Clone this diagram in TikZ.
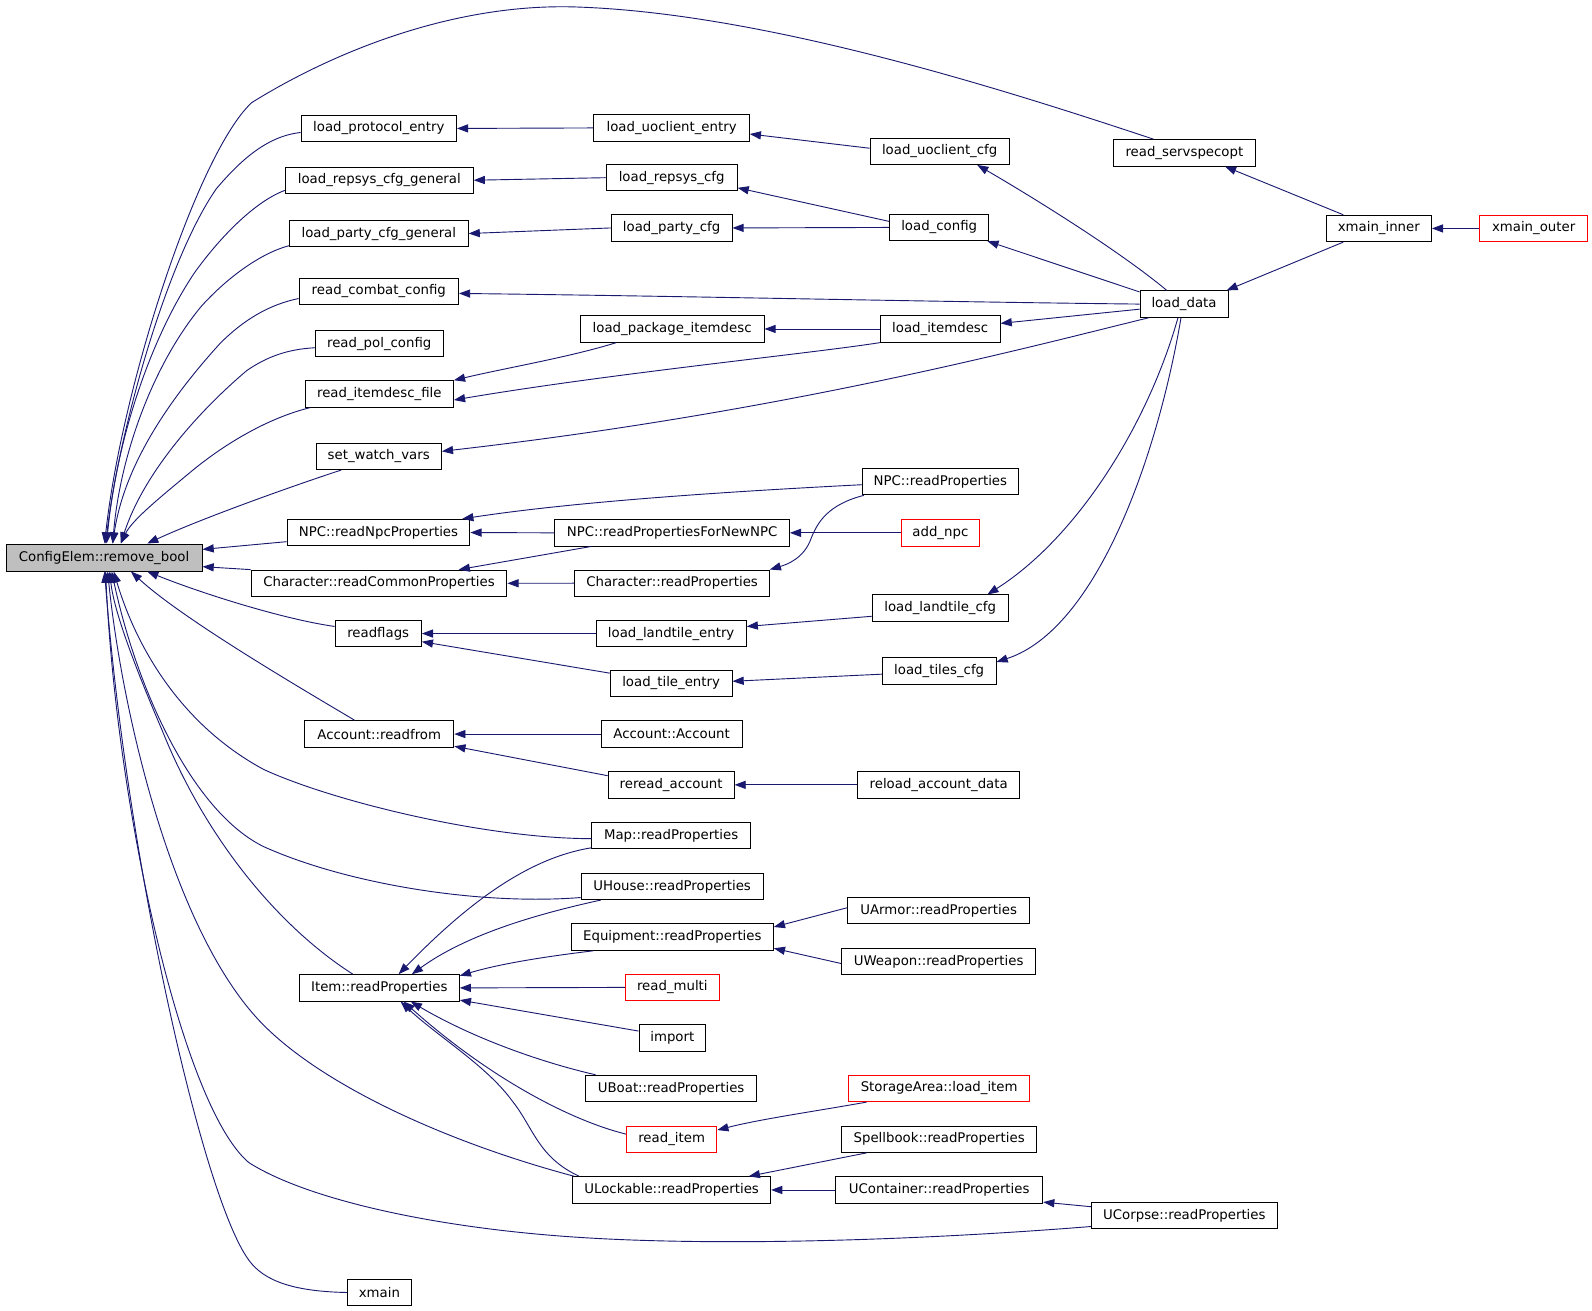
\documentclass[tikz,border=0pt]{standalone}
\usepackage{fontspec}
\setmainfont{DejaVu Sans}
\usetikzlibrary{arrows.meta}
\definecolor{navy}{HTML}{191970}
\definecolor{boxgray}{HTML}{BFBFBF}
\tikzset{
  fn/.style={draw=black, line width=0.95pt, minimum height=26pt, inner sep=0pt, font=\fontsize{13.1}{15}\selectfont, text=black},
  redfn/.style={fn, draw=red},
  edge/.style={draw=navy, line width=0.9pt, -{Triangle[length=11pt,width=8pt]}}
}
\begin{document}
\begin{tikzpicture}[x=1pt,y=-1pt]
\useasboundingbox[fill=white] (0,0) rectangle (1568,1291);
% root
\node[fn, fill=boxgray, minimum width=193pt, minimum height=26.6pt] (ce) at (102.5,549.1) {ConfigElem::remove\_bool};
% left column
\node[fn, minimum width=153pt] (lpe) at (373.1,126.5) {load\_protocol\_entry};
\node[fn, minimum width=185pt] (lrg) at (373.6,177.5) {load\_repsys\_cfg\_general};
\node[fn, minimum width=176pt] (lpg) at (373.1,230) {load\_party\_cfg\_general};
\node[fn, minimum width=157pt] (rcc) at (373.1,287) {read\_combat\_config};
\node[fn, minimum width=126pt] (rpc) at (373.5,338.5) {read\_pol\_config};
\node[fn, minimum width=146pt] (rif) at (373.6,388) {read\_itemdesc\_file};
\node[fn, minimum width=123.5pt] (swv) at (373,449.5) {set\_watch\_vars};
\node[fn, minimum width=180pt] (nnp) at (372.8,524.5) {NPC::readNpcProperties};
\node[fn, minimum width=252pt] (crc) at (373.3,574.5) {Character::readCommonProperties};
\node[fn, minimum width=85pt] (rf) at (372.5,624) {readflags};
\node[fn, minimum width=147pt] (ar) at (373.5,723) {Account::readfrom};
\node[fn, minimum width=157.6pt] (ir) at (373.6,973) {Item::readProperties};
\node[fn, minimum width=63pt] (xm) at (373.7,1273) {xmain};
% middle column
\node[fn, minimum width=153pt] (lue) at (661.5,126) {load\_uoclient\_entry};
\node[fn, minimum width=129pt] (lrc) at (661.5,175) {load\_repsys\_cfg};
\node[fn, minimum width=119pt] (lpc) at (661.5,224.5) {load\_party\_cfg};
\node[fn, minimum width=181pt] (lpi) at (662,324) {load\_package\_itemdesc};
\node[fn, minimum width=231pt] (nfn) at (662,524.8) {NPC::readPropertiesForNewNPC};
\node[fn, minimum width=191.4pt] (chp) at (662,574.4) {Character::readProperties};
\node[fn, minimum width=148pt] (lte) at (661,624) {load\_landtile\_entry};
\node[fn, minimum width=120pt] (lte2) at (661,673) {load\_tile\_entry};
\node[fn, minimum width=139pt] (aa) at (661.5,723) {Account::Account};
\node[fn, minimum width=124pt] (rra) at (661,773) {reread\_account};
\node[fn, minimum width=156pt] (mrp) at (661,823) {Map::readProperties};
\node[fn, minimum width=179.5pt] (uhr) at (662,873) {UHouse::readProperties};
\node[fn, minimum width=199pt] (eqr) at (662.2,923) {Equipment::readProperties};
\node[redfn, minimum width=92.6pt] (rm) at (662.2,972.5) {read\_multi};
\node[fn, minimum width=65.7pt] (imp) at (662.2,1022.5) {import};
\node[fn, minimum width=168pt] (ubr) at (661,1072) {UBoat::readProperties};
\node[redfn, minimum width=89pt] (ri) at (661.5,1122) {read\_item};
\node[fn, minimum width=195pt] (ulr) at (661.5,1172) {ULockable::readProperties};
% third column
\node[fn, minimum width=137pt] (luc) at (925.5,149) {load\_uoclient\_cfg};
\node[fn, minimum width=98pt] (lcf) at (925,224) {load\_config};
\node[fn, minimum width=118pt] (lid) at (926,324) {load\_itemdesc};
\node[fn, minimum width=153.7pt] (nrp) at (926.2,474.4) {NPC::readProperties};
\node[redfn, minimum width=77pt] (add) at (926.2,524.8) {add\_npc};
\node[fn, minimum width=134pt] (ltc) at (926,599) {load\_landtile\_cfg};
\node[fn, minimum width=112pt] (ltsc) at (925,661) {load\_tiles\_cfg};
\node[fn, minimum width=159pt] (rad) at (924.5,773) {reload\_account\_data};
\node[fn, minimum width=179pt] (uar) at (924.5,897) {UArmor::readProperties};
\node[fn, minimum width=191pt] (uwr) at (924.5,947) {UWeapon::readProperties};
\node[redfn, minimum width=178pt] (sal) at (925,1072) {StorageArea::load\_item};
\node[fn, minimum width=192pt] (sbr) at (925,1122) {Spellbook::readProperties};
\node[fn, minimum width=204pt] (ucr) at (925,1172) {UContainer::readProperties};
% fourth+
\node[fn, minimum width=140pt] (rso) at (1166.5,150.5) {read\_servspecopt};
\node[fn, minimum width=86.7pt] (ld) at (1166.2,299.5) {load\_data};
\node[fn, minimum width=183pt] (ucp) at (1166.5,1197) {UCorpse::readProperties};
\node[fn, minimum width=103.7pt] (xmi) at (1358,225) {xmain\_inner};
\node[redfn, minimum width=105.7pt] (xmo) at (1510.5,225) {xmain\_outer};

% edges into ConfigElem (top)
\draw[edge] ([xshift=-30.5pt]rso.north) .. controls (1000,92) and (760,14) .. (571,7) .. controls (450,2) and (330,50) .. (248,101) .. controls (195,150) and (120,380) .. ([xshift=0.5pt]ce.north);
\draw[edge] ([yshift=-4pt]lpe.west) .. controls (262,134) and (235,160) .. (213,186) .. controls (165,255) and (118,420) .. ([xshift=1.5pt]ce.north);
\draw[edge] ([yshift=-10pt]lrg.west) .. controls (252,198) and (218,232) .. (192,268) .. controls (150,330) and (115,430) .. ([xshift=2.5pt]ce.north);
\draw[edge] ([yshift=-12pt]lpg.west) .. controls (258,249) and (225,272) .. (198,302) .. controls (150,360) and (118,450) .. ([xshift=8.5pt]ce.north);
\draw[edge] ([yshift=-7pt]rcc.west) .. controls (265,300) and (240,315) .. (217,338) .. controls (165,395) and (122,460) .. ([xshift=8.5pt]ce.north);
\draw[edge] ([yshift=-4pt]rpc.west) .. controls (282,344) and (262,352) .. (243,365) .. controls (190,410) and (140,470) .. ([xshift=16.5pt]ce.north);
\draw[edge] ([xshift=5.5pt]rif.south west) .. controls (270,410) and (228,432) .. (190,463) .. controls (160,488) and (130,512) .. ([xshift=16.5pt]ce.north);
\draw[edge] ([xshift=-37pt]swv.south) .. controls (290,478) and (200,510) .. ([xshift=42.5pt]ce.north);
% right side
\draw[edge] ([yshift=-9pt]nnp.west) -- ([yshift=8pt]ce.east);
\draw[edge] (crc.north west) -- ([yshift=-9pt]ce.east);
% bottom
\draw[edge] ([yshift=7pt]rf.west) .. controls (280,610) and (200,585) .. ([xshift=42.5pt]ce.south);
\draw[edge] ([xshift=-24pt]ar.north) .. controls (300,680) and (180,610) .. ([xshift=26.5pt]ce.south);
\draw[edge] ([yshift=-3pt]mrp.west) .. controls (480,826) and (330,790) .. (260,758) .. controls (180,715) and (135,640) .. ([xshift=9.5pt]ce.south);
\draw[edge] ([yshift=-11pt]uhr.west) .. controls (470,892) and (340,870) .. (260,834) .. controls (190,800) and (135,680) .. ([xshift=7.5pt]ce.south);
\draw[edge] ([xshift=-26pt]ir.north) .. controls (270,910) and (200,820) .. (160,720) .. controls (130,650) and (112,600) .. ([xshift=5.5pt]ce.south);
\draw[edge] ([xshift=2pt]ulr.north west) .. controls (440,1125) and (320,1070) .. (260,1010) .. controls (170,920) and (120,700) .. ([xshift=3.5pt]ce.south);
\draw[edge] ([yshift=-11pt]ucp.west) .. controls (900,1222) and (700,1228) .. (560,1218) .. controls (420,1208) and (300,1180) .. (245,1145) .. controls (180,1090) and (115,800) .. ([xshift=1.5pt]ce.south);
\draw[edge] (xm.west) .. controls (290,1272) and (260,1262) .. (245,1241) .. controls (200,1180) and (125,850) .. ([xshift=0.5pt]ce.south);

% other edges
\draw[edge] (lue.west) -- (lpe.east);
\draw[edge] ([yshift=3pt]luc.west) -- ([yshift=-6pt]lue.east);
\draw[edge] (lrc.west) -- (lrg.east);
\draw[edge] ([yshift=6pt]lcf.west) -- ([yshift=-10pt]lrc.east);
\draw[edge] (lpc.west) -- (lpg.east);
\draw[edge] (lcf.west) -- (lpc.east);
\draw[edge] ([xshift=-17pt]ld.north) .. controls (1100,245) and (1010,190) .. ([xshift=37pt]luc.south);
\draw[edge] ([yshift=-1.5pt]ld.north west) -- ([xshift=-2pt]lcf.south east);
\draw[edge] (ld.west) .. controls (900,297) and (700,292) .. ([yshift=-2pt]rcc.east);
\draw[edge] ([yshift=-5pt]ld.west) -- ([yshift=5.5pt]lid.east);
\draw[edge] (lid.west) -- (lpi.east);
\draw[edge] ([xshift=-55pt]lpi.south) .. controls (560,352) and (500,362) .. (rif.north east);
\draw[edge] (lid.south west) .. controls (800,348) and (600,368) .. ([yshift=-6pt]rif.east);
\draw[edge] ([xshift=9pt]ld.south west) .. controls (1020,340) and (780,405) .. ([yshift=5pt]swv.east);
\draw[edge] ([xshift=-35pt]xmi.south) -- ([xshift=-2pt]ld.north east);
\draw[edge] ([xshift=-35pt]xmi.north) -- ([xshift=40pt]rso.south);
\draw[edge] (xmo.west) -- (xmi.east);
\draw[edge] ([yshift=-3pt]nrp.west) .. controls (700,485) and (560,495) .. ([xshift=-8pt]nnp.north east);
\draw[edge] (nfn.west) -- (nnp.east);
\draw[edge] (add.west) -- (nfn.east);
\draw[edge] ([xshift=36pt]nfn.south west) -- ([xshift=-48pt]crc.north east);
\draw[edge] (chp.west) -- (crc.east);
\draw[edge] ([xshift=2pt]nrp.south west) .. controls (815,497) and (805,515) .. (799,530) .. controls (792,550) and (775,556) .. (chp.north east);
\draw[edge] ([xshift=-6pt]ld.south) .. controls (1130,420) and (1060,530) .. ([xshift=-21pt]ltc.north east);
\draw[edge] ([xshift=-3pt]ld.south) .. controls (1140,450) and (1080,620) .. ([yshift=9pt]ltsc.east);
\draw[edge] ([yshift=-8pt]ltc.west) -- ([yshift=7pt]lte.east);
\draw[edge] ([yshift=-3pt]ltsc.west) -- ([yshift=2pt]lte2.east);
\draw[edge] (lte.west) -- (rf.east);
\draw[edge] ([yshift=10pt]lte2.west) -- ([yshift=-8pt]rf.east);
\draw[edge] (aa.west) -- (ar.east);
\draw[edge] ([yshift=9pt]rra.west) -- ([yshift=-12pt]ar.east);
\draw[edge] (rad.west) -- (rra.east);
\draw[edge] ([yshift=-12pt]mrp.west) .. controls (520,845) and (460,890) .. ([xshift=19pt]ir.north);
\draw[edge] ([xshift=20pt]uhr.south west) .. controls (530,900) and (460,920) .. ([xshift=32pt]ir.north);
\draw[edge] ([xshift=22pt]eqr.south west) .. controls (530,943) and (490,950) .. ([yshift=12pt]ir.east);
\draw[edge] ([yshift=3pt]uar.west) -- ([yshift=10pt]eqr.east);
\draw[edge] ([yshift=-2pt]uwr.west) -- ([yshift=-11pt]eqr.east);
\draw[edge] (rm.west) -- (ir.east);
\draw[edge] ([yshift=7pt]imp.west) -- ([yshift=-12pt]ir.east);
\draw[edge] ([xshift=10pt]ubr.north west) .. controls (540,1048) and (470,1025) .. ([xshift=31pt]ir.south);
\draw[edge] ([yshift=5pt]ri.west) .. controls (560,1103) and (480,1060) .. ([xshift=24pt]ir.south);
\draw[edge] ([xshift=7pt]ulr.north west) .. controls (530,1140) and (525,1110) .. (505,1085) .. controls (480,1050) and (430,1020) .. ([xshift=21pt]ir.south);
\draw[edge] ([xshift=18pt]sal.south west) .. controls (800,1095) and (750,1102) .. ([yshift=9pt]ri.east);
\draw[edge] ([xshift=25pt]sbr.south west) -- ([xshift=-22pt]ulr.north east);
\draw[edge] (ucr.west) -- (ulr.east);
\draw[edge] ([yshift=8.5pt]ucp.west) -- ([yshift=-12pt]ucr.east);
\end{tikzpicture}
\end{document}
